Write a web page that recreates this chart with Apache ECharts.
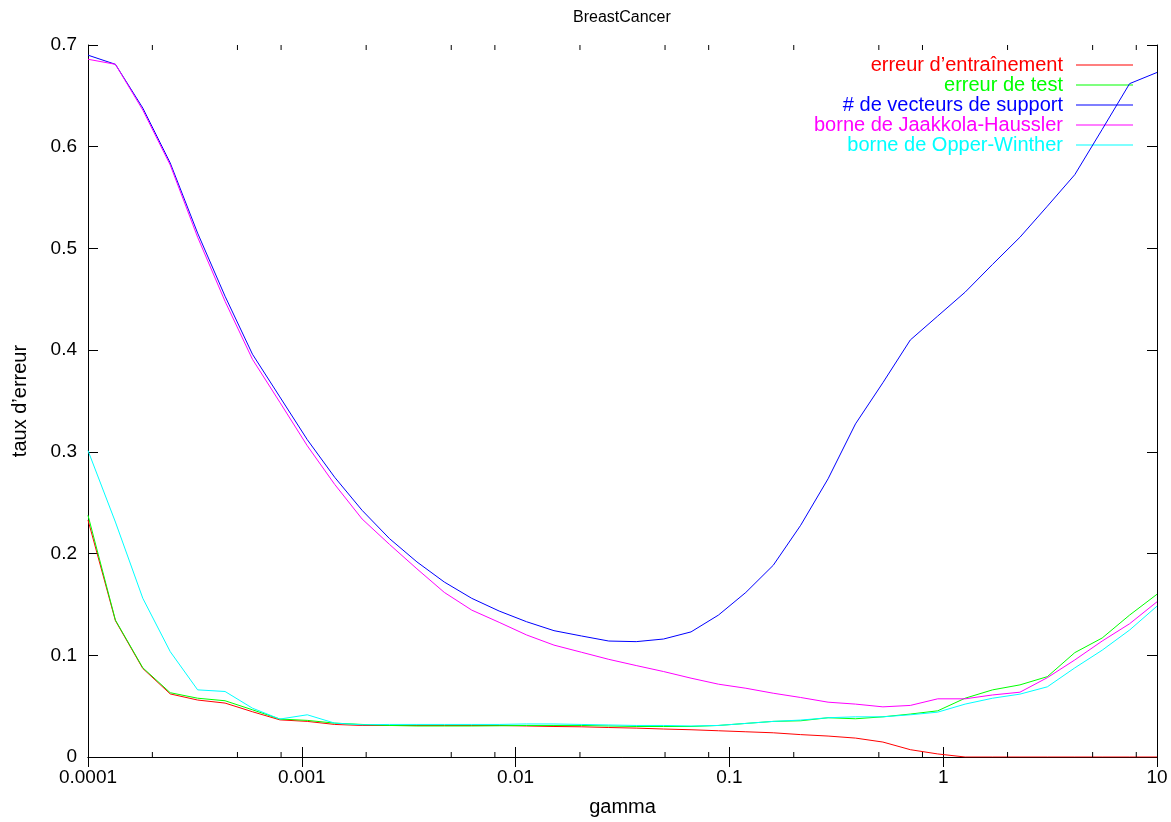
<!DOCTYPE html>
<html>
<head>
<meta charset="utf-8">
<script src="https://cdn.jsdelivr.net/npm/echarts@6/dist/echarts.min.js"></script>
<style>
html,body{margin:0;padding:0;background:#fff;}
#chart{width:1171px;height:822px;}
</style>
</head>
<body>
<div id="chart"></div>
<script>
// gamma values (log-spaced from 1e-4 to 10, 40 points)
var gamma = [0.0001,0.00013434,0.00018047,0.00024245,0.00032571,0.00043755,0.0005878,0.00078966,0.0010608,0.0014251,
  0.0019145,0.0025719,0.0034551,0.0046416,0.0062355,0.0083768,0.011253,0.015118,0.020309,0.027283,
  0.036652,0.049239,0.066147,0.088862,0.11938,0.16037,0.21544,0.28943,0.38881,0.52233,
  0.7017,0.94267,1.2664,1.7013,2.2855,3.0703,4.1246,5.541,7.4438,10];

var trainErr = [0.233,0.134,0.087,0.062,0.056,0.053,0.0445,0.0365,0.035,0.032,
  0.031,0.031,0.031,0.031,0.031,0.031,0.0305,0.030,0.0297,0.029,
  0.0284,0.0275,0.0268,0.0258,0.0248,0.0238,0.022,0.0206,0.0186,0.0147,
  0.0072,0.003,0,0,0,0,0,0,0,0];

var testErr = [0.2376,0.1346,0.0877,0.0632,0.0578,0.0553,0.0464,0.0373,0.036,0.0333,
  0.032,0.031,0.0305,0.0305,0.0305,0.0307,0.031,0.031,0.031,0.0305,
  0.030,0.030,0.030,0.031,0.033,0.035,0.0356,0.0386,0.0376,0.0395,
  0.0422,0.0454,0.0578,0.066,0.0709,0.079,0.1026,0.117,0.1395,0.160];

var supportVec = [0.690,0.681,0.638,0.584,0.515,0.453,0.396,0.354,0.312,0.275,
  0.2425,0.2147,0.1918,0.172,0.156,0.1435,0.133,0.1242,0.119,0.114,
  0.1134,0.116,0.123,0.1395,0.1618,0.1885,0.2278,0.2735,0.3275,0.368,
  0.41,0.4335,0.457,0.4843,0.511,0.5415,0.5725,0.617,0.662,0.673];

var jaakkola = [0.686,0.681,0.636,0.582,0.511,0.448,0.391,0.3487,0.306,0.268,
  0.234,0.209,0.185,0.1618,0.1444,0.1324,0.12,0.110,0.103,0.096,
  0.0899,0.084,0.0775,0.0716,0.0676,0.0627,0.0585,0.0539,0.052,0.0493,
  0.0507,0.0572,0.0572,0.061,0.0637,0.078,0.0954,0.114,0.131,0.1526];

var opper = [0.3013,0.231,0.156,0.1036,0.066,0.0644,0.048,0.0373,0.0415,0.0333,
  0.0317,0.032,0.032,0.032,0.032,0.032,0.0325,0.0325,0.032,0.0315,
  0.031,0.031,0.0305,0.031,0.033,0.035,0.0363,0.0386,0.0395,0.0395,
  0.0415,0.0441,0.052,0.0578,0.0618,0.069,0.0876,0.105,0.1248,0.1483];

var seriesNames = ["erreur d\u2019entra\u00eenement","erreur de test","# de vecteurs de support","borne de Jaakkola-Haussler","borne de Opper-Winther"];
var seriesColors = ["#ff0000","#00ff00","#0000ff","#ff00ff","#00ffff"];
var seriesData = [trainErr, testErr, supportVec, jaakkola, opper];

var xTickLabels = {"-4":"0.0001","-3":"0.001","-2":"0.01","-1":"0.1","0":"1","1":"10"};
var minorTicks = [0.0002,0.0005,0.0008,0.002,0.005,0.008,0.02,0.05,0.08,0.2,0.5,0.8,2,5,8];

var FONT = "Liberation Sans, Arial, sans-serif";

function pairs(ys){ return gamma.map(function(g,i){ return [g, ys[i]]; }); }

var series = seriesData.map(function(d,i){
  return {
    name: seriesNames[i], type: 'line', data: pairs(d),
    showSymbol: false, symbol: 'none',
    lineStyle: {width: 1, color: seriesColors[i]},
    itemStyle: {color: seriesColors[i]},
    animation: false, z: 3 + i
  };
});

series.push({
  type: 'custom', silent: true, animation: false, z: 10,
  data: minorTicks.map(function(v){ return [v]; }),
  encode: {x: 0},
  renderItem: function(params, api){
    var v = api.value(0);
    var b = api.coord([v, 0]);
    var t = api.coord([v, 0.7]);
    var st = {stroke: '#000', lineWidth: 1};
    return {type: 'group', children: [
      {type: 'line', shape: {x1: b[0], y1: b[1], x2: b[0], y2: b[1] - 5}, style: st},
      {type: 'line', shape: {x1: t[0], y1: t[1], x2: t[0], y2: t[1] + 5}, style: st}
    ]};
  }
});

var axisLineStyle = {show: true, lineStyle: {color: '#000', width: 1}};
var tickStyle = {show: true, inside: true, length: 10, lineStyle: {color: '#000', width: 1}};

var chart = echarts.init(document.getElementById('chart'), null, {renderer: 'canvas'});
chart.setOption({
  backgroundColor: '#fff',
  animation: false,
  textStyle: {fontFamily: FONT},
  title: {
    text: 'BreastCancer', left: 568, top: 5,
    textStyle: {fontFamily: FONT, fontSize: 16, fontWeight: 'normal', color: '#000'}
  },
  legend: {
    orient: 'vertical', right: 38, top: 55, align: 'right', padding: 0,
    icon: 'rect', itemWidth: 57, itemHeight: 1, itemGap: 0,
    data: seriesNames.map(function(n,i){
      return {name: n, textStyle: {color: seriesColors[i]}};
    }),
    textStyle: {fontFamily: FONT, fontSize: 20, lineHeight: 20, padding: [0, 8, 0, 0]},
    selectedMode: false
  },
  grid: {left: 88, right: 14, top: 45, bottom: 63, containLabel: false},
  xAxis: [{
    type: 'log', logBase: 10, min: 0.0001, max: 10, position: 'bottom',
    name: 'gamma', nameLocation: 'middle', nameGap: 40,
    nameTextStyle: {fontFamily: FONT, fontSize: 20, color: '#000'},
    axisLine: axisLineStyle, axisTick: tickStyle, splitLine: {show: false},
    axisLabel: {
      color: '#000', fontFamily: FONT, fontSize: 19, margin: 11,
      formatter: function(v){ var k = Math.round(Math.log10(v)); return xTickLabels[String(k)] || ''; }
    }
  },{
    type: 'log', logBase: 10, min: 0.0001, max: 10, position: 'top',
    axisLine: axisLineStyle, axisTick: tickStyle, splitLine: {show: false},
    axisLabel: {show: false}
  }],
  yAxis: [{
    type: 'value', min: 0, max: 0.7, interval: 0.1, position: 'left',
    name: 'taux d\u2019erreur', nameLocation: 'middle', nameGap: 58, nameRotate: 90,
    nameTextStyle: {fontFamily: FONT, fontSize: 20, color: '#000'},
    axisLine: axisLineStyle, axisTick: tickStyle, splitLine: {show: false},
    axisLabel: {color: '#000', fontFamily: FONT, fontSize: 19, margin: 11,
      formatter: function(v){ return String(Math.round(v*10)/10); }}
  },{
    type: 'value', min: 0, max: 0.7, interval: 0.1, position: 'right',
    axisLine: axisLineStyle, axisTick: tickStyle, splitLine: {show: false},
    axisLabel: {show: false}
  }],
  series: series
});
</script>
</body>
</html>
